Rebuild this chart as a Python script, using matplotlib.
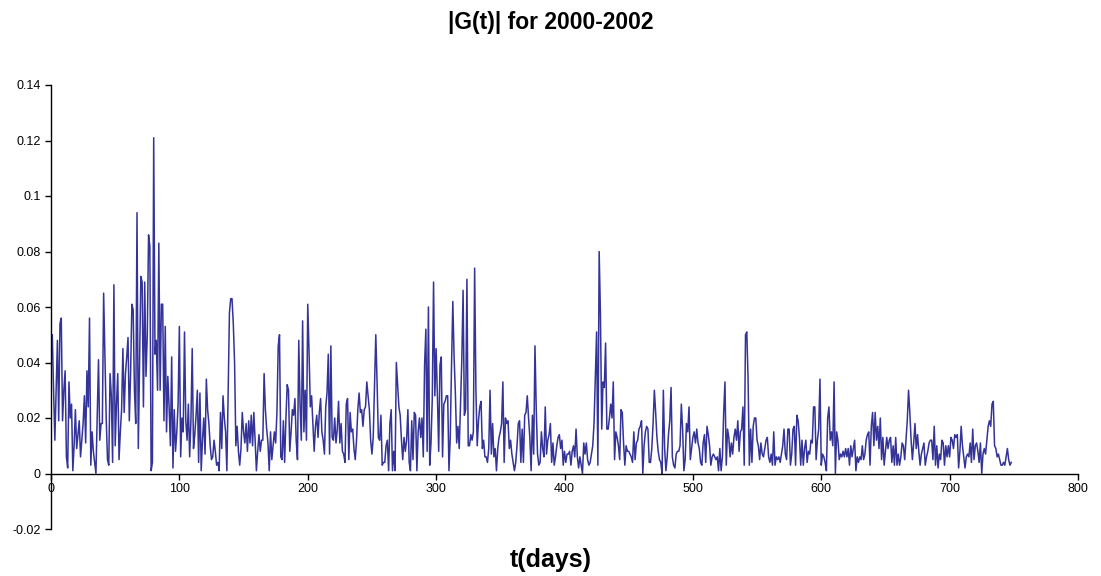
import numpy as np
import matplotlib
matplotlib.use("Agg")
import matplotlib.pyplot as plt

# |G(t)| values in thousandths, one per day
g_000_059 = [47, 50, 30, 12, 30, 48, 19, 54, 56, 19, 30, 37, 6, 2, 33, 20, 25, 1, 10, 23,
             9, 14, 19, 6, 12, 18, 28, 11, 37, 24, 56, 3, 15, 8, 4, 0, 21, 41, 12, 18,
             18, 65, 42, 20, 5, 3, 36, 28, 4, 68, 10, 25, 36, 5, 15, 23, 45, 22, 36, 42]
g_060_121 = [49, 19, 36, 61, 59, 30, 18, 94, 9, 40, 71, 69, 24, 69, 35, 50, 86, 82, 1, 4,
             121, 43, 48, 30, 83, 30, 61, 61, 19, 53, 15, 35, 24, 10, 42, 2, 23, 8, 15, 25,
             53, 6, 20, 15, 51, 19, 12, 25, 6, 19, 45, 9, 14, 21, 30, 4, 29, 1, 12, 20,
             7, 34]
g_122_184 = [23, 18, 10, 5, 6, 12, 8, 3, 4, 1, 22, 9, 28, 20, 15, 1, 29, 58, 63, 63,
             54, 40, 10, 17, 8, 3, 9, 22, 15, 11, 18, 8, 19, 11, 21, 10, 22, 12, 1, 8,
             14, 8, 12, 12, 36, 23, 16, 11, 1, 15, 5, 10, 15, 11, 22, 46, 50, 6, 5, 19,
             4, 20, 32]
g_185_246 = [30, 8, 15, 23, 21, 27, 12, 5, 48, 25, 12, 55, 15, 30, 12, 61, 44, 24, 28, 18,
             8, 17, 21, 13, 22, 27, 15, 12, 7, 24, 29, 43, 7, 46, 13, 12, 20, 11, 16, 26,
             11, 18, 8, 7, 4, 25, 27, 5, 22, 15, 16, 9, 5, 12, 23, 29, 22, 23, 17, 23,
             24, 33]
g_247_308 = [28, 23, 12, 7, 13, 31, 50, 33, 13, 12, 21, 3, 4, 4, 10, 12, 1, 18, 23, 1,
             8, 1, 40, 32, 24, 21, 12, 5, 13, 8, 12, 23, 4, 1, 19, 5, 22, 21, 1, 15,
             20, 13, 20, 6, 39, 52, 8, 60, 3, 11, 27, 69, 28, 45, 28, 8, 39, 42, 6, 25,
             26, 28]
g_309_370 = [28, 1, 13, 39, 62, 42, 29, 11, 17, 9, 25, 41, 66, 21, 23, 70, 10, 10, 14, 12,
             15, 74, 30, 10, 19, 24, 26, 9, 12, 6, 6, 4, 9, 30, 7, 18, 6, 9, 1, 9,
             13, 15, 18, 33, 4, 20, 18, 19, 9, 12, 7, 4, 1, 4, 10, 18, 19, 4, 16, 4,
             21, 22]
g_371_433 = [28, 20, 13, 1, 21, 7, 46, 23, 7, 3, 4, 15, 9, 6, 24, 7, 12, 14, 18, 4,
             11, 3, 6, 10, 13, 14, 9, 12, 3, 8, 4, 7, 7, 8, 3, 8, 10, 6, 16, 6,
             2, 6, 3, 0, 11, 7, 11, 5, 3, 4, 7, 10, 18, 35, 51, 3, 80, 57, 16, 33,
             31, 47, 16]
g_434_495 = [16, 20, 25, 20, 33, 5, 15, 13, 10, 5, 23, 22, 11, 3, 10, 8, 8, 7, 6, 4,
             15, 5, 11, 12, 16, 17, 19, 0, 10, 15, 17, 16, 4, 4, 9, 18, 30, 22, 13, 8,
             5, 4, 0, 30, 9, 1, 6, 14, 19, 31, 6, 3, 2, 7, 8, 8, 10, 25, 16, 1,
             5, 18]
g_496_557 = [15, 24, 5, 9, 13, 15, 11, 16, 11, 9, 4, 3, 11, 14, 4, 17, 14, 10, 3, 6,
             7, 6, 5, 6, 1, 9, 1, 6, 22, 33, 3, 16, 13, 6, 11, 7, 13, 16, 12, 19,
             8, 15, 16, 24, 3, 50, 51, 34, 3, 16, 4, 17, 20, 20, 12, 10, 5, 11, 7, 6,
             9, 12]
g_558_619 = [13, 6, 4, 7, 3, 15, 3, 6, 5, 6, 4, 7, 10, 16, 7, 5, 16, 16, 3, 7,
             16, 17, 3, 21, 19, 13, 3, 12, 3, 9, 12, 4, 8, 7, 12, 11, 24, 24, 5, 12,
             16, 34, 3, 7, 6, 4, 1, 20, 24, 12, 15, 10, 33, 0, 15, 12, 5, 7, 6, 8,
             6, 9]
g_620_682 = [6, 9, 3, 10, 6, 9, 12, 1, 6, 4, 6, 5, 10, 5, 7, 12, 14, 15, 3, 17,
             22, 10, 22, 12, 17, 9, 20, 5, 13, 3, 8, 13, 9, 12, 13, 4, 10, 3, 13, 3,
             7, 3, 6, 11, 10, 5, 12, 19, 30, 22, 12, 5, 11, 18, 9, 14, 8, 3, 7, 9,
             11, 3, 6]
g_683_748 = [8, 11, 12, 12, 5, 17, 3, 10, 2, 7, 5, 12, 11, 3, 10, 6, 10, 6, 13, 12,
             9, 14, 13, 14, 2, 8, 17, 10, 6, 2, 6, 7, 6, 11, 4, 16, 5, 10, 11, 8,
             4, 11, 0, 7, 9, 7, 12, 17, 19, 17, 25, 26, 10, 9, 6, 7, 5, 3, 3, 4,
             3, 6, 9, 5, 3, 4]

segments = [g_000_059, g_060_121, g_122_184, g_185_246, g_247_308, g_309_370,
            g_371_433, g_434_495, g_496_557, g_558_619, g_620_682, g_683_748]
g_t = np.concatenate([np.array(s, dtype=float) for s in segments]) / 1000.0
days = np.arange(len(g_t))

x_ticks = [0, 100, 200, 300, 400, 500, 600, 700, 800]
y_ticks = [-0.02, 0, 0.02, 0.04, 0.06, 0.08, 0.1, 0.12, 0.14]
y_labels = ["-0.02", "0", "0.02", "0.04", "0.06", "0.08", "0.1", "0.12", "0.14"]

plt.rcParams['font.family'] = ['Liberation Sans', 'DejaVu Sans']

fig = plt.figure(figsize=(11.01, 5.76), dpi=100)
ax = fig.add_axes([51 / 1101, 47 / 576, 1027 / 1101, 444 / 576])

ax.plot(days, g_t, color='#333399', linewidth=1.1)

ax.set_xlim(0, 800)
ax.set_ylim(-0.02, 0.14)
ax.set_xticks(x_ticks)
ax.set_xticklabels([str(v) for v in x_ticks])
ax.set_yticks(y_ticks)
ax.set_yticklabels(y_labels)

for s in ['top', 'right']:
    ax.spines[s].set_visible(False)
ax.spines['bottom'].set_position(('data', 0))
ax.spines['bottom'].set_color('black')
ax.spines['left'].set_color('black')
ax.spines['bottom'].set_linewidth(1.0)
ax.spines['left'].set_linewidth(1.0)
ax.tick_params(axis='both', direction='out', length=4, width=1, labelsize=9, colors='black')
ax.tick_params(axis='x', pad=3)

fig.text(0.5, 1 - 23 / 576, "|G(t)| for 2000-2002", ha='center', va='center',
         fontsize=16.5, fontweight='bold')
fig.text(551 / 1101, 1 - 560 / 576, "t(days)", ha='center', va='center',
         fontsize=18, fontweight='bold')

fig.savefig("out.png", dpi=100)
